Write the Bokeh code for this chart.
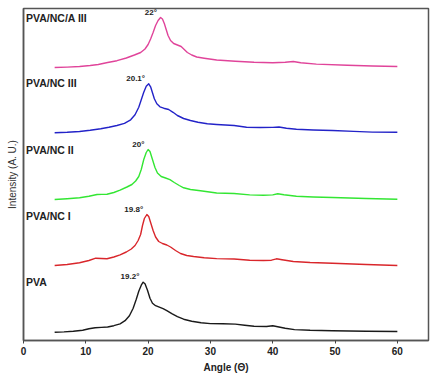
from bokeh.plotting import figure
from bokeh.models import Range1d, LinearAxis, FixedTicker, Label
from bokeh.embed import file_html
from bokeh.resources import INLINE

# ---- data ----
series_names = ["PVA", "PVA/NC I", "PVA/NC II", "PVA/NC III", "PVA/NC/A III"]
series_colors = ["#1a1a1a", "#d9262b", "#33e633", "#2323c8", "#e0449a"]
peak_labels = ["19.2°", "19.8°", "20°", "20.1°", "22°"]
peak_angles = [19.2, 19.8, 20.0, 20.1, 22.0]
offsets = [8.3, 75, 141, 207.7, 273]

pva_angle = [5, 6.5, 8, 9.5, 10.5, 11.5, 12.5, 13.5, 14.5, 15.5, 16.3, 17, 17.6, 18.1, 18.5, 18.9, 19.2, 19.5, 19.9, 20.3, 20.7, 21.2, 21.8, 22.4, 23, 23.8, 24.7, 25.7, 27, 28.5, 30, 32, 34, 35.5, 37, 39, 40, 40.8, 42, 43.5, 46, 49.6, 55, 60]
pva_int = [0, 0.3, 1, 2, 3.5, 4.4, 4.8, 5.2, 6.5, 8.4, 11.5, 16.5, 24, 33, 41, 47, 50, 48.5, 42, 34, 29, 26.5, 25, 23.5, 21.5, 18.5, 15.5, 13, 11, 9.5, 8.6, 8.4, 8.1, 7, 6, 5.7, 6.5, 5.5, 4, 2.6, 1.9, 1.4, 1, 0.7]

nc1_angle = [5, 7, 9, 10.5, 11.6, 12.5, 13.4, 14.5, 15.5, 16.5, 17.3, 17.9, 18.4, 18.8, 19.1, 19.4, 19.8, 20.1, 20.4, 20.8, 21.2, 21.7, 22.3, 23, 23.6, 24.4, 25.2, 26.2, 27.3, 29, 31, 33.8, 36.3, 38.5, 39.8, 40.6, 41.5, 43.3, 46, 49.6, 55, 60]
nc1_int = [0, 1, 2.7, 5, 7.3, 7, 6.7, 8.5, 10.7, 13.5, 16.5, 20, 25, 31, 40, 47, 51, 49, 43, 35, 28.5, 24, 22, 20.5, 18.5, 15, 12, 10, 9, 7.8, 6.9, 6.5, 5.2, 5, 5.3, 6.7, 5.8, 4, 3, 2.3, 1, 0]

nc2_angle = [5, 7, 9, 10.5, 11.8, 12.6, 13.4, 14.5, 15.5, 16.6, 17.4, 18, 18.5, 18.9, 19.3, 19.7, 20, 20.3, 20.7, 21.1, 21.5, 22.1, 22.8, 23.5, 24.2, 25, 25.7, 26.8, 28.4, 31, 33.8, 36.3, 38.5, 40, 40.8, 41.8, 43.8, 46.5, 49.6, 55, 60]
nc2_int = [0, 0.8, 1.7, 3.2, 5, 5.1, 5.2, 7, 9.3, 12.5, 15, 18.5, 23, 30, 40, 47, 50, 48, 40, 32, 26.5, 23, 21.5, 19.8, 17, 14, 11.7, 10, 8.7, 6.5, 6, 4.6, 4.3, 4.6, 5.7, 4.8, 3.3, 2.5, 2, 1, 0.3]

nc3_angle = [5, 7, 9, 10.7, 12.4, 13.7, 15, 16.2, 17.2, 17.9, 18.5, 18.9, 19.3, 19.7, 20.1, 20.4, 20.7, 21, 21.4, 21.9, 22.5, 23.3, 24, 24.7, 25.7, 26.8, 28, 29.5, 31, 33.8, 35.8, 38, 40, 41, 42.2, 43.8, 46.5, 49.6, 53, 56, 60]
nc3_int = [0, 0.5, 1.3, 2.5, 4, 5.5, 7.3, 9.5, 13, 18, 25.6, 33, 40.6, 46.5, 49, 46, 40, 34, 29, 26, 24.6, 23.3, 20.5, 17.3, 14.3, 12.3, 10.5, 9, 8.3, 7.3, 5.6, 5.3, 5.4, 5.8, 4.6, 3.5, 2.8, 2.3, 1.4, 0.7, 0.6]

nca3_angle = [5, 7, 9, 10.7, 12, 13.5, 15, 16.5, 17.8, 18.8, 19.5, 20, 20.4, 20.8, 21.2, 21.6, 22, 22.3, 22.6, 22.9, 23.2, 23.6, 24.1, 24.7, 25.3, 25.8, 26.3, 27, 27.8, 29, 31, 34, 37, 40, 42, 43.3, 44.5, 47, 52, 56, 60]
nca3_int = [0, 0.4, 1, 2, 3, 5, 6.8, 9.5, 12.5, 15, 18.5, 23, 28.5, 35, 42, 47, 50, 48.5, 44, 38, 32, 27, 24, 22.5, 21, 18, 15, 12.5, 10.5, 9.3, 7.5, 6.3, 5.2, 4.8, 5.3, 6, 4.8, 3.4, 2.3, 1.5, 1]

angles = [pva_angle, nc1_angle, nc2_angle, nc3_angle, nca3_angle]
intens = [pva_int, nc1_int, nc2_int, nc3_int, nca3_int]

x_ticks = [0, 10, 20, 30, 40, 50, 60]

p = figure(width=432, height=375, output_backend="svg", toolbar_location=None,
           x_range=Range1d(0, 65), y_range=Range1d(0, 332),
           x_axis_location=None, y_axis_location=None,
           min_border_left=23, min_border_right=4, min_border_top=8, min_border_bottom=35)
p.grid.visible = False
p.background_fill_color = "white"
p.border_fill_color = "white"
p.outline_line_color = "#555555"
p.outline_line_width = 1.5

xa = LinearAxis(ticker=FixedTicker(ticks=x_ticks), axis_label="Angle (Θ)")
xa.axis_line_color = "#555555"
xa.axis_line_width = 1.5
xa.major_tick_line_color = "#444444"
xa.major_tick_out = 3
xa.major_tick_in = 0
xa.minor_tick_line_color = None
xa.major_label_text_font = "Liberation Sans"
xa.major_label_text_font_style = "bold"
xa.major_label_text_font_size = "10px"
xa.major_label_text_color = "#222222"
xa.major_label_standoff = 3
xa.axis_label_text_font = "Liberation Sans"
xa.axis_label_text_font_style = "bold"
xa.axis_label_text_font_size = "10px"
xa.axis_label_text_color = "#222222"
xa.axis_label_standoff = 4
p.add_layout(xa, "below")

ya = LinearAxis(ticker=FixedTicker(ticks=[]), axis_label="Intensity (A. U.)")
ya.axis_line_color = "#555555"
ya.axis_line_width = 1.5
ya.major_tick_line_color = None
ya.minor_tick_line_color = None
ya.major_label_text_font_size = "0px"
ya.axis_label_text_font = "Liberation Sans"
ya.axis_label_text_font_style = "normal"
ya.axis_label_text_font_size = "10px"
ya.axis_label_text_color = "#333333"
ya.axis_label_standoff = 6
p.add_layout(ya, "left")

for name, col, ang, inten, off, plab, pang in zip(series_names, series_colors, angles, intens, offsets, peak_labels, peak_angles):
    ys = [v + off for v in inten]
    p.line(ang, ys, line_color=col, line_width=1.4, line_join="round")
    p.add_layout(Label(x=0.4, y=off + 50, text=name, text_font="Liberation Sans",
                       text_font_style="bold", text_font_size="10.5px", text_color="#222222",
                       text_baseline="middle", text_align="left"))
    p.add_layout(Label(x=pang - 0.6, y=max(inten) + off + 1, text=plab, text_font="Liberation Sans",
                       text_font_style="bold", text_font_size="8px", text_color="#222222",
                       text_baseline="bottom", text_align="right"))

open("out.html", "w").write(file_html(p, INLINE))
